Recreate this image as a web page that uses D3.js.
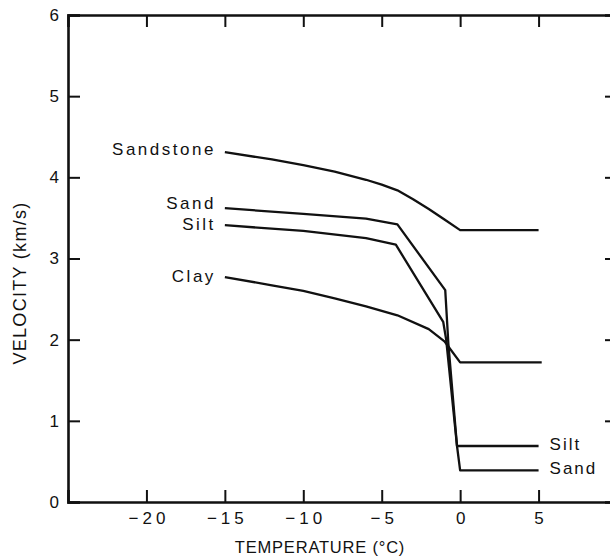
<!DOCTYPE html>
<html>
<head>
<meta charset="utf-8">
<script src="https://cdn.jsdelivr.net/npm/d3@7"></script>
<style>
  html, body { margin: 0; padding: 0; background: #fff; }
  svg { display: block; }
  text { font-family: "Liberation Sans", Arial, Helvetica, sans-serif; fill: #111; }
</style>
</head>
<body>
<svg id="chart" width="610" height="557"></svg>
<script>
// Velocity (km/s) versus temperature (°C) for frozen materials
const sandstoneT = [-15, -12, -10, -8, -6, -5, -4, -3, -2, -1, 0, 5];
const sandstoneV = [4.31, 4.22, 4.15, 4.07, 3.97, 3.91, 3.84, 3.73, 3.61, 3.48, 3.35, 3.35];

const sandT = [-15, -10, -6, -4, -0.95, -0.75, -0.2, 0, 5];
const sandV = [3.62, 3.55, 3.49, 3.42, 2.61, 1.95, 0.69, 0.39, 0.39];

const siltT = [-15, -10, -6, -4.1, -1.08, -0.89, -0.2, 5];
const siltV = [3.41, 3.34, 3.25, 3.17, 2.22, 2.0, 0.69, 0.69];

const clayT = [-15, -12, -10, -8, -6, -4, -2, -1, 0, 5.2];
const clayV = [2.77, 2.67, 2.60, 2.51, 2.41, 2.30, 2.13, 1.98, 1.72, 1.72];

const leftLabels = ["Sandstone", "Sand", "Silt", "Clay"];
const rightLabels = ["Silt", "Sand"];

const xTicks = [-20, -15, -10, -5, 0, 5];
const yTicks = [0, 1, 2, 3, 4, 5, 6];
const xTitle = "TEMPERATURE (°C)";
const yTitle = "VELOCITY (km/s)";

const svg = d3.select("#chart");

const x = d3.scaleLinear().domain([-25, 10]).range([68, 617]);
const y = d3.scaleLinear().domain([0, 6]).range([502, 15]);

const tickLen = 12;
const fmt = d => (d < 0 ? "\u2212" + Math.abs(d) : String(d));

// Frame axes: ticks pointing inward on all four sides
const axisBottom = d3.axisBottom(x).tickValues(xTicks).tickSize(-tickLen).tickPadding(10).tickFormat(fmt);
const axisTop = d3.axisTop(x).tickValues(xTicks).tickSize(-tickLen).tickFormat("");
const axisLeft = d3.axisLeft(y).tickValues(yTicks).tickSize(-tickLen).tickPadding(9).tickFormat(d3.format("d"));
const axisRight = d3.axisRight(y).tickValues(yTicks.slice(1, 6)).tickSize(-tickLen).tickFormat("");

function styleAxis(g) {
  g.select(".domain").attr("stroke", "#111").attr("stroke-width", 2.6);
  g.selectAll(".tick line").attr("stroke", "#111").attr("stroke-width", 2);
  g.selectAll(".tick text")
    .attr("fill", "#111")
    .style("font-size", "17px")
    .style("font-family", "'Liberation Sans', Arial, sans-serif");
}

svg.append("g").attr("transform", `translate(0,${y(0)})`).call(axisBottom).call(styleAxis)
  .selectAll(".tick text").style("letter-spacing", "4px").attr("dx", "2px");
svg.append("g").attr("transform", `translate(0,${y(6)})`).call(axisTop).call(styleAxis);
svg.append("g").attr("transform", `translate(${x(-25)},0)`).call(axisLeft).call(styleAxis);
svg.append("g").attr("transform", `translate(${x(10)},0)`).call(axisRight).call(styleAxis);

// Axis titles
svg.append("text")
  .attr("x", 320).attr("y", 553)
  .attr("text-anchor", "middle")
  .style("font-size", "16.5px")
  .style("letter-spacing", "0.8px")
  .text(xTitle);

svg.append("text")
  .attr("transform", "translate(26,283) rotate(-90)")
  .attr("text-anchor", "middle")
  .style("font-size", "18px")
  .style("letter-spacing", "1.3px")
  .text(yTitle);

// Curves
const series = [
  { t: sandstoneT, v: sandstoneV },
  { t: sandT, v: sandV },
  { t: siltT, v: siltV },
  { t: clayT, v: clayV }
];

const line = d3.line()
  .x(d => x(d[0]))
  .y(d => y(d[1]))
  .curve(d3.curveLinear);

series.forEach(s => {
  const pts = s.t.map((t, i) => [t, s.v[i]]);
  svg.append("path")
    .attr("d", line(pts))
    .attr("fill", "none")
    .attr("stroke", "#111")
    .attr("stroke-width", 2.3)
    .attr("stroke-linejoin", "round");
});

// Labels at the cold end of each curve (baseline offsets keep Sand and Silt apart)
const leftDy = [3, 1, 5, 5];
series.forEach((s, i) => {
  svg.append("text")
    .attr("x", x(s.t[0]) - 9)
    .attr("y", y(s.v[0]) + leftDy[i])
    .attr("text-anchor", "end")
    .style("font-size", "17px")
    .style("letter-spacing", "2.5px")
    .text(leftLabels[i]);
});

// Labels at the warm end of the silt and sand curves
[{ t: siltT, v: siltV }, { t: sandT, v: sandV }].forEach((s, i) => {
  const n = s.t.length - 1;
  svg.append("text")
    .attr("x", x(s.t[n]) + 11)
    .attr("y", y(s.v[n]) + 4)
    .attr("text-anchor", "start")
    .style("font-size", "17px")
    .style("letter-spacing", "2px")
    .text(rightLabels[i]);
});
</script>
</body>
</html>
